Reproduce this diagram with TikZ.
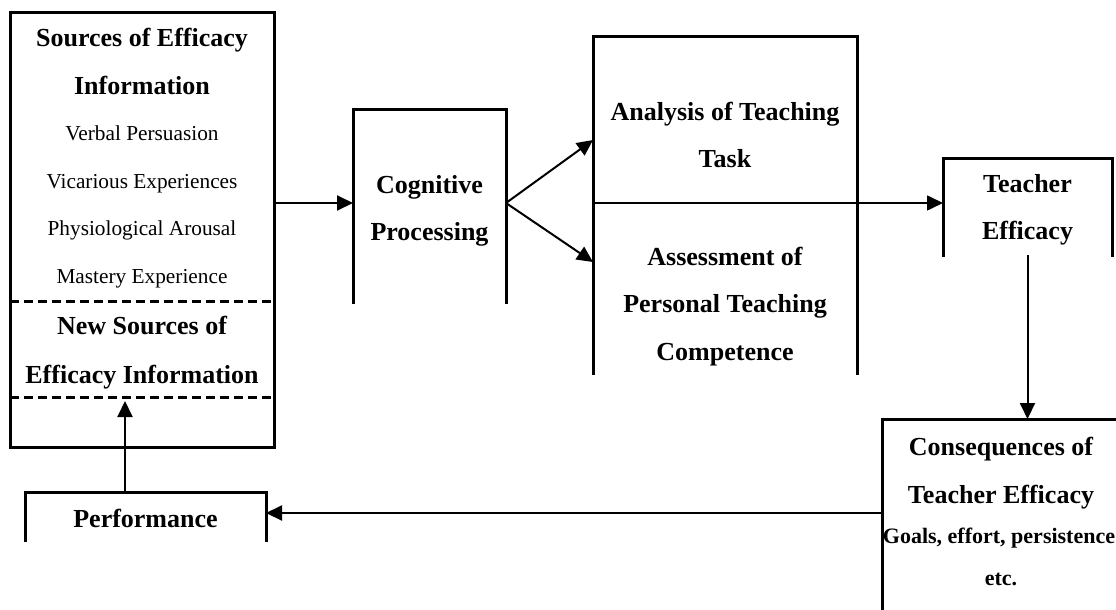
\documentclass[tikz,border=0pt]{standalone}
\usepackage{fontspec}
\setmainfont{Liberation Serif}
\usetikzlibrary{arrows.meta}
\begin{document}
\begin{tikzpicture}[x=1pt,y=-1pt,
  region/.style={draw=none,rectangle,inner sep=0pt,outer sep=0pt},
  boxline/.style={line width=3pt,line cap=rect},
  dashline/.style={line width=3pt,dash pattern=on 9pt off 5pt},
  arr/.style={line width=2pt,-{Triangle[length=16pt,width=15pt]}},
  thinarr/.style={line width=1.6pt,-{Triangle[length=16pt,width=15pt]}},
  hd/.style={font=\fontsize{26}{30}\selectfont\bfseries,anchor=base,inner sep=0pt},
  rg/.style={font=\fontsize{21.3}{26}\selectfont,anchor=base,inner sep=0pt},
  sm/.style={font=\fontsize{22}{26}\selectfont\bfseries,anchor=base,inner sep=0pt}]
\useasboundingbox (0,0) rectangle (1116,610);

% box regions
\node[region,minimum width=264pt,minimum height=434pt] (src) at (142,230) {};
\node[region,minimum width=153pt,minimum height=193pt] (cog) at (429.5,205.5) {};
\node[region,minimum width=264pt,minimum height=336pt] (ana) at (725,205) {};
\node[region,minimum width=169pt,minimum height=97pt] (te) at (1027.5,206.5) {};
\node[region,minimum width=240pt,minimum height=195pt] (cons) at (1002,516.5) {};
\node[region,minimum width=241pt,minimum height=48pt] (perf) at (145.5,516) {};

% helper levels
\coordinate (mid) at (0,203);
\coordinate (up) at (0,140);
\coordinate (dn) at (0,262);
\coordinate (back) at (0,513);
\coordinate (d1) at (0,301);
\coordinate (d2) at (0,397);
\coordinate (fbtip) at (125,401);

% outlines
\draw[boxline] (src.south west) rectangle (src.north east);
\draw[dashline] (src.west |- d1) -- (src.east |- d1);
\draw[dashline] (src.west |- d2) -- (src.east |- d2);
\draw[boxline] (cog.south west) -- (cog.north west) -- (cog.north east) -- (cog.south east);
\draw[boxline] (ana.south west) -- (ana.north west) -- (ana.north east) -- (ana.south east);
\draw[boxline] (te.south west) -- (te.north west) -- (te.north east) -- (te.south east);
\draw[boxline] (cons.south west) -- (cons.north west) -- (cons.north east);
\draw[boxline] (perf.south west) -- (perf.north west) -- (perf.north east) -- (perf.south east);

% texts
\node[hd] (s1) at (142,47) {Sources of Efficacy};
\node[hd] (s2) at (142,94) {Information};
\node[rg] (s3) at (142,140) {Verbal Persuasion};
\node[rg] (s4) at (142,188) {Vicarious Experiences};
\node[rg] (s5) at (142,235) {Physiological Arousal};
\node[rg] (s6) at (142,283) {Mastery Experience};
\node[hd] (s7) at (142,334) {New Sources of};
\node[hd] (s8) at (142,383) {Efficacy Information};

\node[hd] (c1) at (429.5,193) {Cognitive};
\node[hd] (c2) at (429.5,240) {Processing};

\node[hd] (a1) at (725,120) {Analysis of Teaching};
\node[hd] (a2) at (725,167) {Task};
\node[hd] (a3) at (725,265) {Assessment of};
\node[hd] (a4) at (725,312) {Personal Teaching};
\node[hd] (a5) at (725,360) {Competence};

\node[hd] (t1) at (1027.5,192) {Teacher};
\node[hd] (t2) at (1027.5,239) {Efficacy};

\node[hd] (q1) at (1001,455) {Consequences of};
\node[hd] (q2) at (1001,503) {Teacher Efficacy};
\node[sm] (q3) at (999,543) {Goals, effort, persistence};
\node[sm] (q4) at (1001,585) {etc.};

\node[hd] (p1) at (145.5,527) {Performance};

% connectors
\draw[arr] (src.east |- mid) -- (cog.west |- mid);
\draw[arr] (cog.east |- mid) -- (ana.west |- up);
\draw[arr] (cog.east |- mid) -- (ana.west |- dn);
\draw[thinarr] (ana.west |- mid) -- (te.west |- mid);
\draw[arr] (te.south) -- (te.south |- cons.north);
\draw[arr] (cons.west |- back) -- (perf.east |- back);
\draw[arr] (fbtip |- perf.north) -- (fbtip);
\end{tikzpicture}
\end{document}
